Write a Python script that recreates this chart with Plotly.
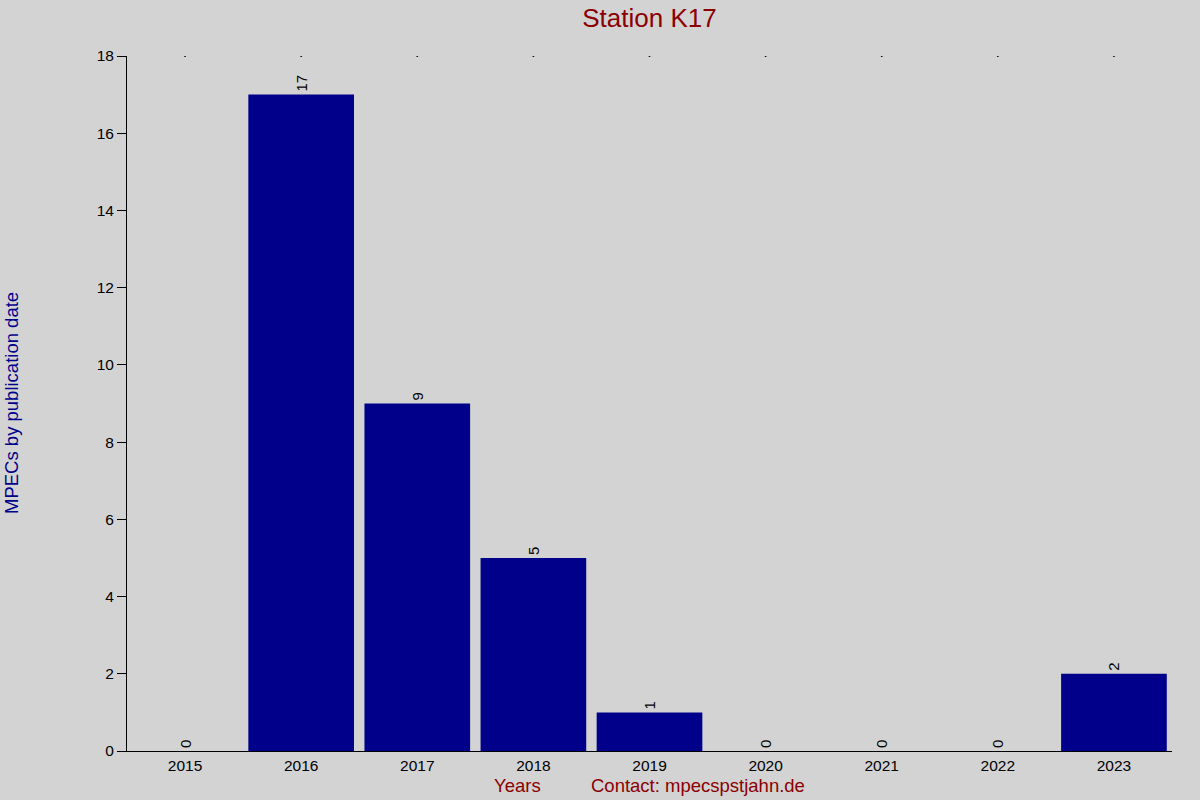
import plotly.graph_objects as go

years = ["2015", "2016", "2017", "2018", "2019", "2020", "2021", "2022", "2023"]
mpecs = [0, 17, 9, 5, 1, 0, 0, 0, 2]

FONT = "Liberation Sans, Arial, sans-serif"
DARKRED = "#8B0000"
NAVY = "#00008B"

fig = go.Figure()
fig.add_trace(go.Bar(
    x=years,
    y=mpecs,
    marker=dict(color=NAVY, line=dict(width=0)),
    text=[str(v) for v in mpecs],
    textposition="outside",
    textangle=-90,
    textfont=dict(family=FONT, size=15, color="black"),
    cliponaxis=False,
    showlegend=False,
))
# tiny marks along the top edge
fig.add_trace(go.Scatter(x=years, y=[18] * len(years), xaxis="x2",
                         mode="markers", marker=dict(size=2, color="black"),
                         hoverinfo="skip", showlegend=False))

fig.update_layout(
    width=1200, height=800,
    paper_bgcolor="#D3D3D3", plot_bgcolor="#D3D3D3",
    margin=dict(l=127, r=28, t=56, b=49),
    bargap=0.09,
    font=dict(family=FONT, size=15, color="black"),
    title=dict(text="Station K17", x=(127 + 1172) / 2 / 1200, xanchor="center",
               y=0.978, yanchor="middle",
               font=dict(family=FONT, size=26, color=DARKRED)),
    xaxis=dict(type="category", showline=True, linecolor="black", linewidth=1,
               ticks="", showgrid=False, zeroline=False, automargin=False,
               tickfont=dict(size=15.5)),
    xaxis2=dict(type="category", overlaying="x", matches="x", visible=False),
    yaxis=dict(range=[0, 18], dtick=2, showline=True, linecolor="black",
               linewidth=1, ticks="outside", ticklen=9, tickcolor="black",
               showgrid=False, zeroline=False, automargin=False,
               tickfont=dict(size=15.5)),
    annotations=[
        dict(text="MPECs by publication date", x=11, y=403, textangle=-90,
             font=dict(size=18.5, color=NAVY)),
        dict(text="Years", x=517, y=786, font=dict(size=18.5, color=DARKRED)),
        dict(text="Contact: mpecspstjahn.de", x=698, y=786,
             font=dict(size=18.5, color=DARKRED)),
    ],
)
# annotation positions given in pixels -> convert to paper coords
pw, ph = 1200 - 127 - 28, 800 - 56 - 49
for a in fig.layout.annotations:
    px, py = a.x, a.y
    a.update(x=(px - 127) / pw, y=(751 - py) / ph, xref="paper", yref="paper",
             xanchor="center", yanchor="middle", showarrow=False)

fig.write_html("out.html", config={"displayModeBar": False},
               post_script="document.body.style.margin='0';")
